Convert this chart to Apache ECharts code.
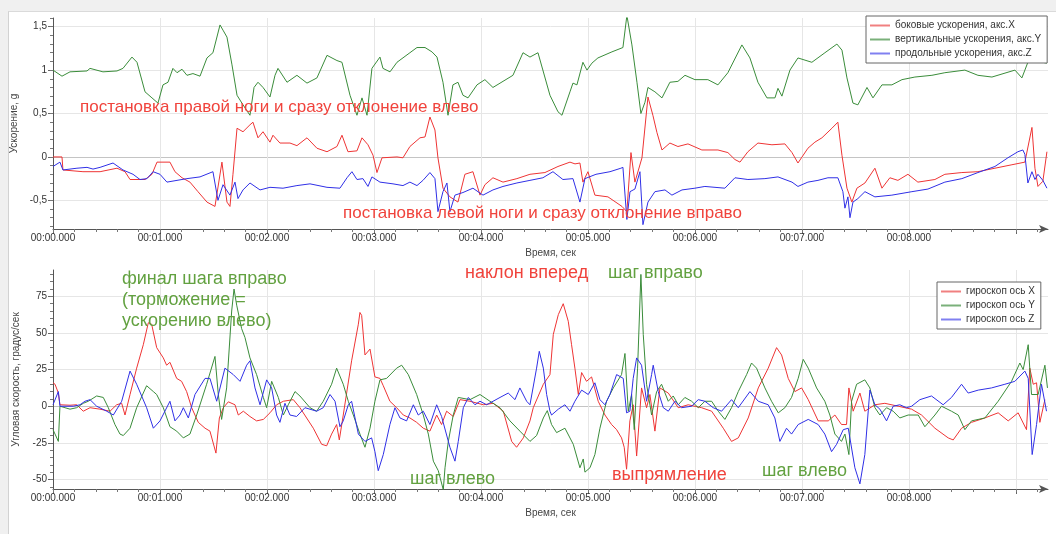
<!DOCTYPE html>
<html><head><meta charset="utf-8">
<script src="https://cdn.jsdelivr.net/npm/echarts@6/dist/echarts.min.js"></script>
<style>
html,body{margin:0;padding:0;background:#f0f0f0;overflow:hidden;}
#panel{position:absolute;left:8px;top:11px;width:1048px;height:523px;background:#fff;border-left:1px solid #d2d2d2;border-top:1px solid #dadada;box-sizing:border-box;}
#chart{position:absolute;left:0;top:0;width:1056px;height:534px;}
</style></head><body><div id="panel"></div><div id="chart"></div>
<script>
// time in milliseconds
const accNames = ['боковые ускорения, акс.X','вертикальные ускорения, акс.Y','продольные ускорения, акс.Z'];
const gyroNames = ['гироскоп ось X','гироскоп ось Y','гироскоп ось Z'];
const timeTicks = [0,1000,2000,3000,4000,5000,6000,7000,8000,9000];
const timeLabels = [0,1000,2000,3000,4000,5000,6000,7000,8000];
const accTicks = [-0.5,0,0.5,1,1.5];
const gyroTicks = [-50,-25,0,25,50,75];

const accX = [[0,0],[84,0],[93,-0.15],[280,-0.17],[440,-0.17],[598,-0.13],[673,-0.17],[720,-0.26],[860,-0.26],[925,-0.2],[972,-0.06],[1093,-0.06],[1140,-0.17],[1206,-0.24],[1280,-0.29],[1355,-0.4],[1439,-0.52],[1514,-0.57],[1579,-0.06],[1626,-0.52],[1654,-0.57],[1682,-0.2],[1720,0.33],[1776,0.29],[1841,0.37],[1869,0.4],[1916,0.22],[1963,0.29],[2028,0.17],[2056,0.25],[2121,0.16],[2215,0.16],[2280,0.13],[2374,0.22],[2467,0.1],[2561,0.06],[2654,0.12],[2701,0.25],[2757,0.06],[2841,0.07],[2888,0.22],[2944,0.14],[2991,0.02],[3028,-0.18],[3075,-0.01],[3215,0],[3271,-0.01],[3336,0.12],[3430,0.22],[3477,0.23],[3523,0.46],[3570,0.31],[3598,-0.01],[3645,-0.36],[3710,-0.46],[3785,-0.52],[3850,-0.2],[3925,-0.17],[3991,-0.44],[4037,-0.32],[4112,-0.24],[4206,-0.29],[4336,-0.25],[4458,-0.2],[4598,-0.18],[4720,-0.11],[4832,-0.06],[4879,-0.08],[4925,-0.07],[4953,-0.29],[5000,-0.17],[5065,-0.44],[5187,-0.46],[5318,-0.57],[5364,-0.63],[5402,0.05],[5439,-0.29],[5505,-0.01],[5561,0.69],[5607,0.48],[5645,0.28],[5692,0.08],[5766,0.16],[5841,0.12],[5935,0.15],[6065,0.08],[6215,0.08],[6308,0.05],[6374,-0.03],[6421,-0.06],[6495,0.06],[6589,0.16],[6720,0.14],[6841,0.15],[6907,0.05],[6963,-0.07],[7056,0.1],[7121,0.17],[7187,0.22],[7280,0.33],[7336,0.4],[7374,0.02],[7421,-0.36],[7467,-0.52],[7514,-0.36],[7589,-0.3],[7682,-0.13],[7748,-0.36],[7822,-0.24],[7897,-0.27],[7991,-0.2],[8084,-0.29],[8243,-0.26],[8336,-0.2],[8495,-0.18],[8645,-0.17],[8804,-0.13],[8963,-0.09],[9084,-0.06],[9150,0.34],[9178,-0.13],[9206,-0.34],[9252,-0.28],[9290,0.06]];

const accY = [[0,1.0],[84,0.93],[159,0.98],[318,0.99],[346,1.02],[467,0.98],[598,0.99],[654,1.02],[738,1.15],[785,1.09],[860,0.75],[925,0.68],[981,0.62],[1028,0.83],[1075,0.86],[1121,1.02],[1159,0.97],[1206,1.01],[1252,0.94],[1308,0.96],[1374,0.93],[1439,1.14],[1495,1.2],[1561,1.52],[1589,1.46],[1626,1.38],[1673,1.06],[1720,0.71],[1776,0.6],[1841,0.48],[1879,0.8],[1916,0.86],[1963,0.8],[2028,0.69],[2075,0.94],[2103,1.02],[2187,0.86],[2280,0.94],[2374,0.85],[2467,0.91],[2561,1.17],[2654,1.11],[2701,1.09],[2776,0.71],[2841,0.48],[2888,0.68],[2935,0.48],[2981,1.02],[3056,1.15],[3084,1.02],[3150,0.98],[3215,1.09],[3336,1.2],[3402,1.26],[3477,1.26],[3542,1.21],[3589,1.15],[3645,0.86],[3692,0.48],[3738,0.83],[3785,0.86],[3832,0.71],[3879,0.68],[3963,0.83],[4037,0.89],[4112,0.8],[4299,0.94],[4393,1.2],[4458,1.15],[4533,1.2],[4645,0.71],[4720,0.52],[4757,0.48],[4832,0.75],[4860,0.85],[4897,0.83],[4953,1.09],[4991,1.0],[5037,1.08],[5093,1.14],[5224,1.21],[5327,1.26],[5364,1.63],[5411,1.29],[5458,0.86],[5495,0.5],[5533,0.63],[5561,0.8],[5626,0.75],[5692,0.68],[5766,0.86],[5841,0.87],[5907,0.94],[6000,0.89],[6121,0.89],[6215,0.83],[6308,0.97],[6439,1.29],[6514,1.14],[6589,0.86],[6673,0.68],[6748,0.68],[6776,0.79],[6813,0.7],[6888,1.0],[6963,1.14],[7093,1.09],[7215,1.2],[7327,1.3],[7374,1.23],[7421,0.91],[7477,0.62],[7523,0.6],[7608,0.8],[7664,0.68],[7748,0.83],[7841,0.83],[7935,0.89],[8056,0.92],[8215,0.94],[8336,0.97],[8523,1.0],[8645,0.94],[8776,0.92],[8991,1.0],[9056,0.91],[9112,1.09],[9150,1.26],[9178,1.09],[9206,1.1],[9290,1.08]];

const accZ = [[0,-0.11],[65,-0.06],[93,-0.15],[224,-0.13],[318,-0.12],[374,-0.14],[440,-0.12],[561,-0.07],[654,-0.15],[748,-0.2],[813,-0.26],[879,-0.25],[935,-0.17],[1000,-0.2],[1065,-0.29],[1159,-0.27],[1252,-0.25],[1374,-0.23],[1495,-0.17],[1542,-0.5],[1589,-0.32],[1654,-0.44],[1701,-0.29],[1729,-0.48],[1776,-0.38],[1841,-0.3],[1935,-0.38],[2028,-0.35],[2150,-0.36],[2280,-0.33],[2402,-0.31],[2561,-0.35],[2682,-0.36],[2748,-0.24],[2794,-0.17],[2841,-0.26],[2897,-0.25],[2944,-0.34],[2981,-0.23],[3056,-0.29],[3178,-0.31],[3271,-0.33],[3336,-0.29],[3402,-0.33],[3458,-0.27],[3523,-0.18],[3570,-0.25],[3598,-0.63],[3645,-0.4],[3682,-0.3],[3710,-0.63],[3757,-0.44],[3832,-0.41],[3925,-0.36],[4019,-0.44],[4112,-0.38],[4206,-0.34],[4336,-0.3],[4458,-0.27],[4579,-0.24],[4673,-0.17],[4766,-0.26],[4860,-0.25],[4925,-0.52],[4972,-0.25],[5075,-0.2],[5206,-0.17],[5308,-0.13],[5327,-0.12],[5364,-0.72],[5393,-0.4],[5439,-0.37],[5486,-0.17],[5514,-0.78],[5561,-0.52],[5626,-0.4],[5720,-0.38],[5785,-0.44],[5879,-0.38],[6000,-0.36],[6093,-0.34],[6280,-0.36],[6374,-0.24],[6495,-0.26],[6654,-0.25],[6776,-0.23],[6907,-0.29],[6963,-0.34],[7056,-0.29],[7150,-0.27],[7243,-0.24],[7336,-0.24],[7383,-0.4],[7402,-0.59],[7430,-0.46],[7449,-0.7],[7477,-0.52],[7523,-0.48],[7589,-0.4],[7682,-0.46],[7841,-0.44],[8028,-0.4],[8178,-0.37],[8336,-0.29],[8495,-0.25],[8645,-0.18],[8804,-0.11],[8925,-0.01],[9019,0.06],[9065,0.08],[9084,0.03],[9112,-0.3],[9150,-0.17],[9178,-0.26],[9206,-0.2],[9252,-0.27],[9290,-0.36]];

const gyroX = [[0,16],[19,15],[50,9],[65,1],[159,0.7],[221,1],[283,-3.4],[346,-1],[439,-2],[533,-3.4],[595,1],[642,2],[673,-6],[720,8],[782,26],[844,42],[891,57],[922,56],[969,40],[1031,33],[1062,28],[1093,30],[1156,19],[1202,17],[1249,10],[1296,-1],[1358,-11],[1421,-15],[1467,-17],[1523,-32],[1555,-8],[1592,-1],[1639,3],[1701,1],[1732,-6],[1779,-3.4],[1841,-7],[1903,-10],[1966,-9],[2028,-4.5],[2090,1],[2153,3.4],[2246,4.5],[2308,-1],[2433,-15],[2511,-26],[2558,-27],[2604,-19],[2651,-12.5],[2676,-23],[2713,-6],[2791,31],[2854,56],[2869,64],[2885,62],[2916,35],[2963,39],[3009,20],[3056,19],[3087,14],[3149,3.4],[3212,-1],[3274,-6],[3336,-8],[3399,-11],[3461,-15],[3523,-17],[3586,-6],[3632,-12.5],[3679,-3.4],[3741,-7],[3804,4.5],[3897,3.4],[4022,1],[4115,2],[4209,-3.4],[4287,-24],[4333,-28],[4396,-21.6],[4458,-10],[4489,-1],[4583,15],[4645,21.6],[4676,49],[4723,62.5],[4769,70],[4816,58],[4847,42],[4878,26],[4910,8],[4941,23],[4987,17],[5034,20],[5096,3.4],[5159,-6],[5221,-12.5],[5268,-16],[5314,-21.6],[5339,-28],[5361,-43],[5392,-10],[5423,1],[5455,-34],[5501,12.5],[5548,-1],[5579,8],[5626,-17],[5673,12.5],[5751,9],[5844,-1],[5937,1],[6062,-1],[6156,-3.4],[6265,-15],[6342,-24],[6405,-21.6],[6498,-8],[6592,12.5],[6685,26],[6763,40],[6810,35],[6872,19],[6934,10],[6997,12.5],[7059,4.5],[7152,-10],[7246,-10],[7308,-6],[7370,-12.5],[7417,-12.5],[7439,12.5],[7479,-3.4],[7542,9],[7588,-3.4],[7682,1],[7775,2],[7900,0],[8025,-2],[8118,-6],[8243,-15],[8367,-21.6],[8414,-23],[8492,-15],[8585,-11],[8710,-8],[8834,-4.5],[8928,-10],[9021,-4.5],[9099,-16],[9130,26],[9162,15],[9193,16],[9224,-11],[9271,4.5]];

const gyroY = [[0,-16],[19,-19],[50,-24],[65,0],[159,-2],[221,-1],[283,2],[330,3.4],[408,7],[470,6],[517,-1],[579,-12.5],[626,-19],[657,-20],[720,-15],[782,-1],[875,14],[938,10],[969,8],[1031,-1],[1093,-14],[1156,-17],[1218,-21.6],[1280,-19],[1343,-6],[1436,15],[1514,34],[1545,8],[1576,-9],[1623,12.5],[1670,65],[1692,80],[1717,69],[1763,53],[1794,47],[1841,33],[1903,21.6],[1966,6],[1997,-1],[2044,17],[2106,6],[2153,-6],[2199,1],[2262,10],[2308,7],[2402,-1],[2464,-3.4],[2526,3.4],[2604,15],[2651,26],[2713,15],[2760,3.4],[2807,-6],[2869,-19],[2916,-28],[2963,-15],[3009,3.4],[3056,18],[3118,19],[3212,26],[3259,28],[3321,21.6],[3399,8],[3461,-6],[3508,-19],[3555,-37.5],[3601,-44],[3648,-57],[3664,-42],[3695,-24],[3741,-6],[3788,6],[3897,4.5],[3991,8],[4084,3.4],[4178,-1],[4271,-10],[4364,-17],[4458,-24],[4520,-20],[4583,-8],[4620,-3],[4660,-12.5],[4707,-18],[4785,-15],[4863,-26],[4925,-42],[4956,-36],[4972,-45],[5019,-42],[5065,-33],[5112,-15],[5174,3.4],[5237,12.5],[5314,21.6],[5346,36],[5377,-3.4],[5408,8],[5433,-16],[5464,26],[5495,90],[5517,49],[5548,15],[5595,-6],[5642,10],[5688,15],[5751,3.4],[5797,7],[5844,1],[5906,6],[5969,3.4],[6031,-1],[6093,3.4],[6156,3.4],[6218,-3.4],[6280,-9],[6342,-1],[6405,10],[6483,21.6],[6529,29.5],[6576,26],[6654,12.5],[6716,3.4],[6779,-4.5],[6841,-1],[6903,6],[6965,19],[7012,32],[7059,26],[7137,12.5],[7214,3.4],[7261,-6],[7308,-19],[7370,-24],[7402,-19],[7439,-33],[7464,3.4],[7511,15],[7588,18],[7635,12.5],[7682,-1],[7729,-6],[7791,-1],[7853,-3.4],[7915,-8],[7993,-6],[8087,-6],[8149,-14],[8243,-6],[8305,0],[8398,-3.4],[8461,-6],[8523,-16],[8585,-10],[8710,-8],[8834,3.4],[8959,17],[9037,29.5],[9068,25],[9115,42],[9146,8],[9208,8],[9271,28],[9295,12.5]];

const gyroZ = [[0,1],[50,10],[65,0],[190,0],[252,1],[299,3.4],[346,4.5],[408,0],[502,-3.4],[564,-6],[642,3.4],[720,24],[782,15],[875,-1],[938,-15],[1000,-10],[1093,3.4],[1140,-10],[1187,-6],[1218,-1],[1265,-8],[1327,8],[1421,19],[1467,19],[1530,3.4],[1607,26],[1685,21.6],[1748,17],[1810,28],[1841,31],[1888,12.5],[1935,1],[1997,18],[2044,12.5],[2090,-6],[2121,-11],[2168,2],[2215,-6],[2277,-7],[2355,-1],[2464,-3.4],[2526,-1],[2589,8],[2636,3.4],[2682,-14],[2713,-10],[2760,1],[2791,3.4],[2854,-19],[2916,-24],[2978,-21.6],[3009,-31],[3040,-44],[3087,-33],[3149,-12.5],[3196,-1],[3243,-8],[3305,-10],[3368,1],[3414,-6],[3461,-3.4],[3523,-12.5],[3586,1],[3632,-7],[3710,-28],[3757,-37.5],[3788,-24],[3835,-1],[3882,6],[3944,1],[3991,3.4],[4053,1],[4178,6],[4255,9],[4318,4.5],[4364,12.5],[4427,3.4],[4458,1],[4520,26],[4545,37.5],[4583,26],[4614,8],[4645,-3.4],[4660,-6],[4723,-2],[4785,1],[4832,-3.4],[4878,3.4],[4941,11],[5003,8],[5065,16],[5112,4.5],[5159,1],[5205,8],[5268,21.6],[5330,19],[5361,-4.5],[5392,-3.4],[5423,19],[5455,33],[5501,28],[5548,3.4],[5595,21.6],[5610,28],[5657,10],[5704,-1],[5751,-3.4],[5813,3.4],[5875,-1],[5969,0],[6031,4.5],[6093,3.4],[6171,-1],[6249,-3.4],[6342,4.5],[6405,-1],[6514,10],[6592,3.4],[6685,1],[6747,-8],[6794,-24],[6856,-15],[6903,-19],[6965,-12.5],[7059,-9],[7152,-12.5],[7214,-19],[7277,-31],[7324,-26],[7386,-16],[7433,-15],[7495,-42],[7542,-53],[7588,-33],[7635,11],[7682,1],[7729,-2],[7791,-10],[7853,0],[7915,1],[7978,-1],[8025,0],[8103,4.5],[8211,7],[8320,1],[8398,6],[8492,15],[8554,9],[8648,11],[8772,12.5],[8897,15],[8990,17],[9084,24],[9115,19],[9152,-33],[9193,-12.5],[9239,15],[9286,-3.4]];

const T_MAX = 9300;
const FONT = '"Liberation Sans", Arial, sans-serif';
const RED = '#ee3434', GREEN = '#3a8c3a', BLUE = '#2f2fe6';
const LEG_RED = '#f08080', LEG_GREEN = '#7ab07a', LEG_BLUE = '#8080f0';
const TXT_RED = '#f0433c', TXT_GREEN = '#62a140';

function fmtTime(v){
  const s = Math.floor(v/1000), ms = Math.round(v - s*1000);
  return '00:' + String(s).padStart(2,'0') + '.' + String(ms).padStart(3,'0');
}
function steps(a, b, st){ const r=[]; for(let v=a; v<=b+1e-9; v+=st) r.push(Math.round(v*1000)/1000); return r; }

function timeAxis(grid){
  return {type:'value', gridIndex:grid, min:0, max:T_MAX,
    name:'Время, сек', nameLocation:'middle', nameGap:19,
    nameTextStyle:{color:'#444', fontSize:10, fontFamily:FONT},
    axisLine:{show:true, onZero:false, lineStyle:{color:'#555', width:1}, symbol:['none','arrow'], symbolSize:[6,9]},
    axisTick:{show:true, customValues:timeTicks, length:5, lineStyle:{color:'#666'}},
    axisLabel:{customValues:timeLabels, formatter:fmtTime, margin:4, color:'#333', fontSize:10, fontFamily:FONT},
    splitLine:{show:true, lineStyle:{color:'#e6e6e6', width:1}}};
}
function minorTime(grid){
  return {type:'value', gridIndex:grid, min:0, max:T_MAX, position:'bottom',
    axisLine:{show:false, onZero:false}, axisLabel:{show:false}, splitLine:{show:false},
    axisTick:{show:true, customValues:steps(0, 9200, 200), length:3, lineStyle:{color:'#777'}}};
}
function valAxis(grid, name, min, max, ticks, zeroIdx, fmt){
  const cols = ticks.map((t,i)=> i===zeroIdx ? '#c4c4c4' : '#e6e6e6');
  return {type:'value', gridIndex:grid, min:min, max:max,
    name:name, nameLocation:'middle', nameGap:32,
    nameTextStyle:{color:'#444', fontSize:10, fontFamily:FONT},
    axisLine:{show:true, onZero:false, lineStyle:{color:'#555', width:1}},
    axisTick:{show:true, customValues:ticks, length:5, lineStyle:{color:'#666'}},
    axisLabel:{customValues:ticks, formatter:fmt, margin:6, color:'#333', fontSize:10, fontFamily:FONT},
    splitLine:{show:true, lineStyle:{color:cols, width:1}}};
}
function minorVal(grid, min, max, vals){
  return {type:'value', gridIndex:grid, min:min, max:max, position:'left',
    axisLine:{show:false, onZero:false}, axisLabel:{show:false}, splitLine:{show:false},
    axisTick:{show:true, customValues:vals, length:3, lineStyle:{color:'#777'}}};
}
function line(name, data, color, xi, yi){
  return {name:name, type:'line', data:data, xAxisIndex:xi, yAxisIndex:yi, showSymbol:false, symbol:'none',
    color:color, lineStyle:{color:color, width:1}, itemStyle:{color:color}, animation:false, silent:true};
}
function legendData(names, colors){
  return names.map((n,i)=>({name:n, icon:'rect',
    itemStyle:{color:colors[i], borderColor:colors[i], borderWidth:0, opacity:1}}));
}
const legendBase = {orient:'vertical', itemWidth:20, itemHeight:2, itemGap:3,
  padding:[4,6,4,4], backgroundColor:'#fff', borderColor:'#666', borderWidth:1, borderRadius:0,
  itemStyle:{borderWidth:0},
  textStyle:{fontSize:10, fontFamily:FONT, color:'#333', lineHeight:11}};

const chart = echarts.init(document.getElementById('chart'), null, {renderer:'canvas'});
function txt(x, y, s, color, size){
  return {type:'text', x:x, y:y, z:100, silent:true,
    style:{text:s, fill:color, font: size + 'px ' + FONT, verticalAlign:'middle', align:'left'}};
}
const legColors = [LEG_RED, LEG_GREEN, LEG_BLUE];
chart.setOption({
  animation:false,
  backgroundColor:'transparent',
  grid:[{left:53, top:18, width:995, height:211}, {left:53, top:270, width:995, height:219}],
  xAxis:[timeAxis(0), timeAxis(1), minorTime(0), minorTime(1)],
  yAxis:[
    valAxis(0, 'Ускорение, g', -0.83, 1.6, accTicks, 1, v => String(v).replace('.', ',')),
    valAxis(1, 'Угловая скорость, градус/сек', -56.5, 93, gyroTicks, 2, v => String(v)),
    minorVal(0, -0.83, 1.6, steps(-0.8, 1.6, 0.1)),
    minorVal(1, -56.5, 93, steps(-55, 90, 5))
  ],
  legend:[
    Object.assign({}, legendBase, {left:866, top:16, data:legendData(accNames, legColors)}),
    Object.assign({}, legendBase, {left:937, top:282, data:legendData(gyroNames, legColors)})
  ],
  series:[
    line(accNames[0], accX, RED, 0, 0),
    line(accNames[1], accY, GREEN, 0, 0),
    line(accNames[2], accZ, BLUE, 0, 0),
    line(gyroNames[0], gyroX, RED, 1, 1),
    line(gyroNames[1], gyroY, GREEN, 1, 1),
    line(gyroNames[2], gyroZ, BLUE, 1, 1)
  ],
  graphic:[
    txt(80, 107, 'постановка правой ноги и сразу отклонение влево', TXT_RED, 17),
    txt(343, 213, 'постановка левой ноги и сразу отклонение вправо', TXT_RED, 17),
    txt(122, 279, 'финал шага вправо', TXT_GREEN, 18),
    txt(122, 300, '(торможение =', TXT_GREEN, 18),
    txt(122, 321, 'ускорению влево)', TXT_GREEN, 18),
    txt(465, 273, 'наклон вперед', TXT_RED, 18),
    txt(608, 273, 'шаг вправо', TXT_GREEN, 18),
    txt(410, 479, 'шаг влево', TXT_GREEN, 18),
    txt(612, 475, 'выпрямление', TXT_RED, 18),
    txt(762, 471, 'шаг влево', TXT_GREEN, 18)
  ]
});
</script></body></html>
